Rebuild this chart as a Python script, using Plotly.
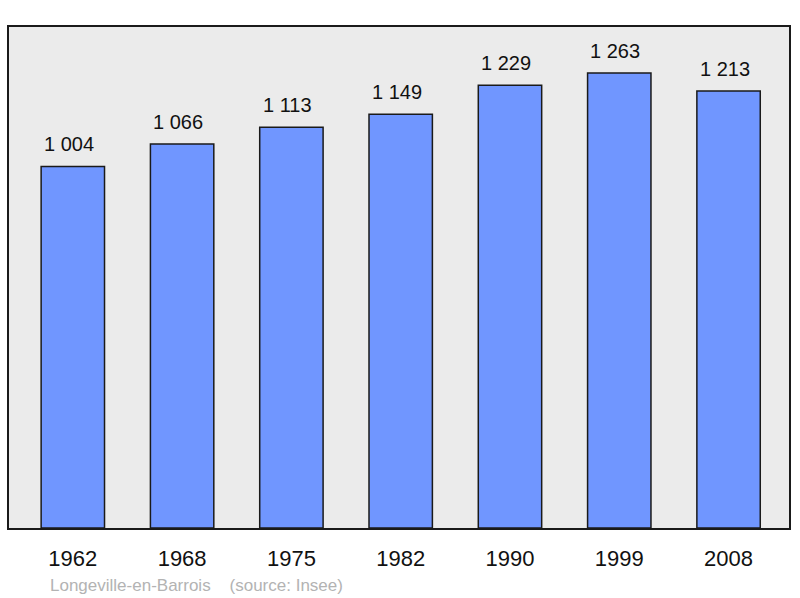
import plotly.graph_objects as go

years = ["1962", "1968", "1975", "1982", "1990", "1999", "2008"]
population = [1004, 1066, 1113, 1149, 1229, 1263, 1213]
labels = ["1 004", "1 066", "1 113", "1 149", "1 229", "1 263", "1 213"]
footer = "Longeville-en-Barrois    (source: Insee)"

FONT = "Liberation Sans, Arial, sans-serif"

fig = go.Figure(go.Bar(
    x=years, y=population, width=0.58,
    marker=dict(color="#7096ff", line=dict(color="#1a1a1a", width=1.5)),
    hoverinfo="skip",
))

for i, (v, t) in enumerate(zip(population, labels)):
    fig.add_annotation(x=i, y=v, text=t, showarrow=False, yanchor="bottom",
                       yshift=9, xshift=-4,
                       font=dict(size=20, color="#111111", family=FONT))

fig.add_annotation(xref="paper", yref="paper", x=(48 - 9) / 782, y=-(585 - 528) / 501,
                   xanchor="left", yanchor="middle",
                   text=footer.replace("    ", "&nbsp;&nbsp;&nbsp;&nbsp;"),
                   showarrow=False,
                   font=dict(size=17, color="#b3b3b3", family=FONT))

fig.update_layout(
    width=800, height=598,
    margin=dict(l=9, r=9, t=27, b=70),
    paper_bgcolor="white", plot_bgcolor="#ebebeb",
    showlegend=False,
    font=dict(family=FONT, color="#111111"),
    xaxis=dict(type="category", range=[-0.584, 6.553], showline=True, mirror=True,
               linecolor="#1a1a1a", linewidth=2, ticks="outside", ticklen=10,
               tickcolor="rgba(0,0,0,0)", tickfont=dict(size=22), showgrid=False,
               fixedrange=True),
    yaxis=dict(range=[0, 1391], showline=True, mirror=True, linecolor="#1a1a1a",
               linewidth=2, showticklabels=False, showgrid=False, zeroline=False,
               ticks="", fixedrange=True),
)

fig.write_html("out.html", config={"displayModeBar": False},
               post_script="document.body.style.margin='0';")
